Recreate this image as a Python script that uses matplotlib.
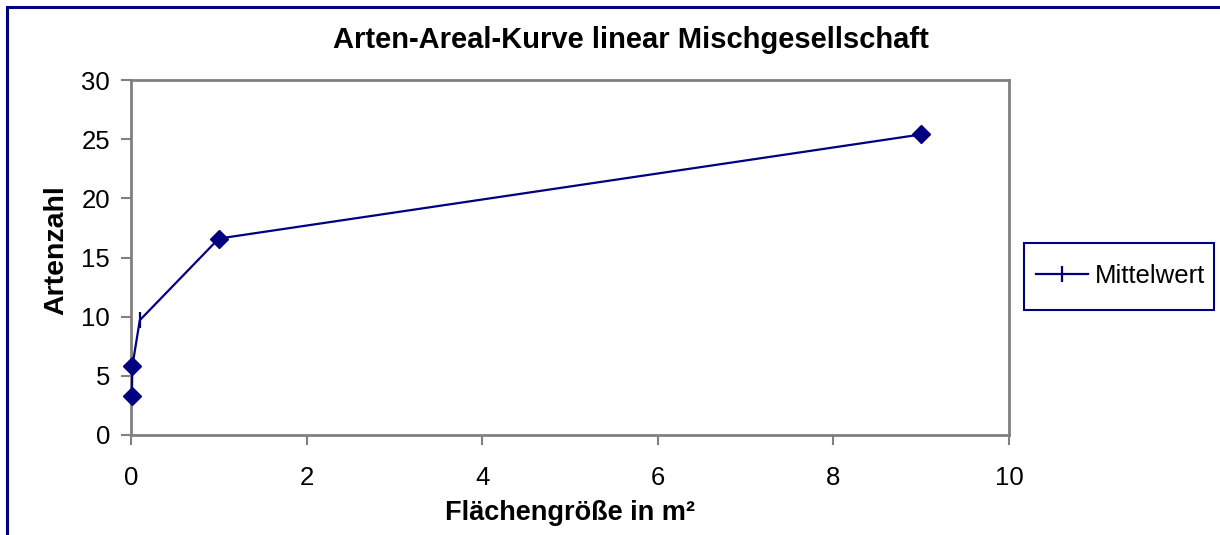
import matplotlib.pyplot as plt
from matplotlib.patches import Rectangle

plt.rcParams['font.family'] = ['Liberation Sans', 'DejaVu Sans']

flaeche = [0.01, 0.015, 0.1, 1, 9]
artenzahl = [3.3, 5.8, 9.7, 16.6, 25.4]
marker_art = ['D', 'D', '|', 'D', 'D']

navy = '#000080'
grau = '#808080'

fig = plt.figure(figsize=(12.2, 5.35), dpi=100)
ax = fig.add_axes([131 / 1220, 100 / 535, 878 / 1220, 355 / 535])

ax.plot(flaeche, artenzahl, color=navy, linewidth=1.6, marker='|',
        markersize=12, markeredgewidth=1.6, label='Mittelwert',
        clip_on=False, zorder=3)
for xv, yv, m in zip(flaeche, artenzahl, marker_art):
    if m == 'D':
        ax.plot(xv, yv, marker='D', color=navy, markersize=9, linestyle='none',
                clip_on=False, zorder=4)

ax.set_xlim(0, 10)
ax.set_ylim(0, 30)
ax.set_xticks([0, 2, 4, 6, 8, 10])
ax.set_yticks([0, 5, 10, 15, 20, 25, 30])
for s in ax.spines.values():
    s.set_color(grau)
    s.set_linewidth(2)
    s.set_zorder(2)
ax.tick_params(axis='both', direction='out', length=7, width=1.5, color=grau,
               labelsize=18.5)
ax.tick_params(axis='x', pad=15)
ax.tick_params(axis='y', pad=8)

fig.text(631 / 1220, 1 - 40 / 535, 'Arten-Areal-Kurve linear Mischgesellschaft',
         fontsize=21, fontweight='bold', ha='center', va='center')
fig.text(570 / 1220, 1 - 513 / 535, 'Flächengröße in m²', fontsize=19.5,
         fontweight='bold', ha='center', va='center')
fig.text(56 / 1220, 1 - 250 / 535, 'Artenzahl', fontsize=20.5,
         fontweight='bold', ha='center', va='center', rotation=90)

# legend text without frame, frame drawn separately
leg = ax.legend(loc='center left',
                bbox_to_anchor=((1024 - 131) / 878, (435 - 276) / 355),
                fontsize=18.5, frameon=False, borderpad=0.45,
                handlelength=2.05, handletextpad=0.27, borderaxespad=0)
fig.patches.append(Rectangle((1024 / 1220, 1 - 310 / 535), 190 / 1220, 67 / 535,
                             transform=fig.transFigure, fill=False,
                             edgecolor=navy, linewidth=1.5))

fig.patches.append(Rectangle((7 / 1220, -0.1), 1.2, (535 - 7) / 535 + 0.1,
                             transform=fig.transFigure, fill=False,
                             edgecolor=navy, linewidth=2.2))

fig.savefig('out.png', dpi=100)
